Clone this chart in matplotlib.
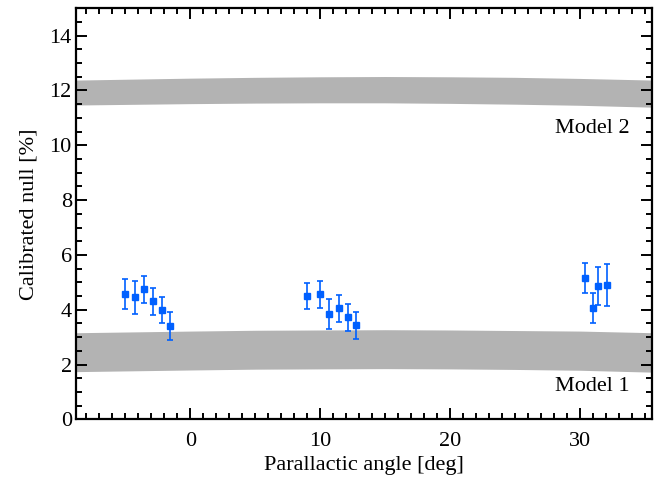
import numpy as np
import matplotlib
matplotlib.use("Agg")
import matplotlib.pyplot as plt
from matplotlib.ticker import MultipleLocator

plt.rcParams['font.family'] = ['Liberation Serif', 'DejaVu Serif']
plt.rcParams['mathtext.fontset'] = 'stix'

# measured null values (three groups of observations)
angle = [-5.05, -4.23, -3.59, -2.90, -2.21, -1.54,
         8.98, 9.95, 10.64, 11.41, 12.10, 12.75,
         30.33, 30.95, 31.36, 32.05]
null = [4.56, 4.45, 4.74, 4.30, 3.99, 3.40,
        4.50, 4.56, 3.84, 4.05, 3.72, 3.43,
        5.15, 4.05, 4.87, 4.90]
null_err = [0.55, 0.60, 0.50, 0.50, 0.47, 0.52,
            0.46, 0.48, 0.55, 0.50, 0.50, 0.50,
            0.54, 0.55, 0.69, 0.77]

# model envelopes
band_x = [-8.8, 0, 5, 10, 15, 20, 25, 30, 35.6]
model1_lo = [1.74, 1.80, 1.83, 1.84, 1.85, 1.84, 1.82, 1.79, 1.72]
model1_hi = [3.16, 3.22, 3.25, 3.26, 3.27, 3.26, 3.24, 3.22, 3.16]
model2_lo = [11.47, 11.52, 11.54, 11.55, 11.55, 11.53, 11.50, 11.46, 11.39]
model2_hi = [12.38, 12.45, 12.48, 12.50, 12.51, 12.50, 12.48, 12.44, 12.38]

fig = plt.figure(figsize=(6.65, 4.79), dpi=100)
ax = fig.add_axes([0.1143, 0.1246, 0.8657, 0.8581])

ax.fill_between(band_x, model1_lo, model1_hi, color='#b3b3b3', lw=0)
ax.fill_between(band_x, model2_lo, model2_hi, color='#b3b3b3', lw=0)

ax.errorbar(angle, null, yerr=null_err, fmt='s', color='#0060ff',
            ms=5, elinewidth=1.2, capsize=2.5, capthick=1.2)

ax.text(30.9, 10.62, 'Model 2', ha='center', va='center', fontsize=16)
ax.text(30.9, 1.2, 'Model 1', ha='center', va='center', fontsize=16)

ax.set_xlim(-8.8, 35.5)
ax.set_ylim(0, 15)
ax.xaxis.set_major_locator(MultipleLocator(10))
ax.xaxis.set_minor_locator(MultipleLocator(1))
ax.yaxis.set_major_locator(MultipleLocator(2))
ax.yaxis.set_minor_locator(MultipleLocator(0.5))
ax.tick_params(which='both', direction='in', top=True, right=True,
               labelsize=16, width=1.4)
ax.tick_params(which='major', length=8)
ax.tick_params(which='minor', length=4)
ax.tick_params(axis='x', pad=9)
ax.tick_params(axis='y', pad=3)
for s in ax.spines.values():
    s.set_linewidth(1.6)

ax.set_xlabel('Parallactic angle [deg]', fontsize=16, labelpad=4)
ax.set_ylabel('Calibrated null [%]', fontsize=16, labelpad=8)

plt.savefig('out.png', dpi=100)
